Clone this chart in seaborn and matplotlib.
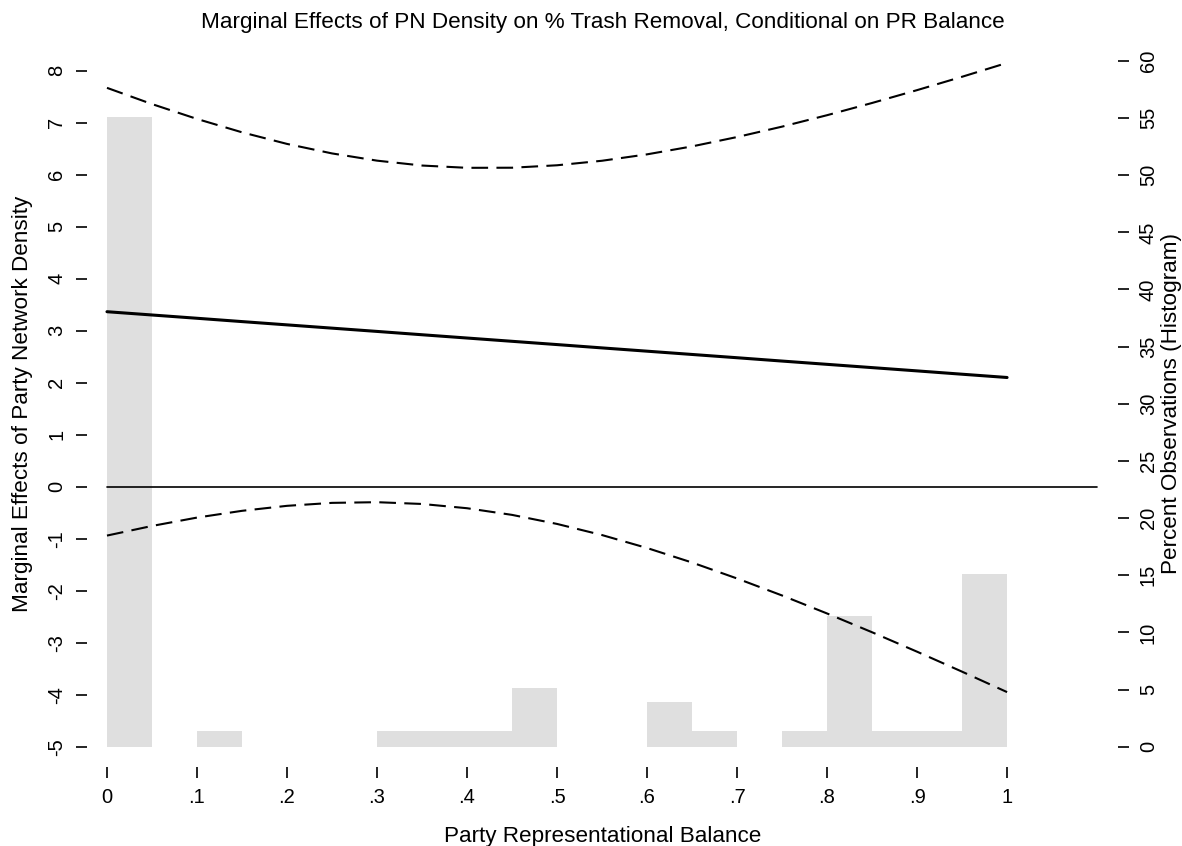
import numpy as np
import pandas as pd
import matplotlib
matplotlib.use("Agg")
import matplotlib.pyplot as plt
import seaborn as sns

# Moderator grid (party representational balance)
balance = [0.00, 0.05, 0.10, 0.15, 0.20, 0.25, 0.30, 0.35, 0.40, 0.45, 0.50,
           0.55, 0.60, 0.65, 0.70, 0.75, 0.80, 0.85, 0.90, 0.95, 1.00]
# Marginal effect of party network density and its confidence bounds
marginal_effect = [3.365, 3.302, 3.239, 3.175, 3.112, 3.049, 2.986, 2.922, 2.859, 2.796, 2.733,
                   2.669, 2.606, 2.543, 2.480, 2.416, 2.353, 2.290, 2.227, 2.163, 2.100]
upper_bound = [7.670, 7.358, 7.072, 6.815, 6.592, 6.409, 6.270, 6.176, 6.132, 6.134, 6.181,
               6.268, 6.391, 6.544, 6.724, 6.924, 7.144, 7.379, 7.626, 7.883, 8.150]
lower_bound = [-0.940, -0.755, -0.594, -0.464, -0.368, -0.311, -0.298, -0.332, -0.414, -0.542, -0.716,
               -0.930, -1.179, -1.458, -1.765, -2.092, -2.438, -2.799, -3.173, -3.557, -3.950]

# Histogram of observations: bin left edges and percent of observations
bin_left = [0.00, 0.05, 0.10, 0.15, 0.20, 0.25, 0.30, 0.35, 0.40, 0.45,
            0.50, 0.55, 0.60, 0.65, 0.70, 0.75, 0.80, 0.85, 0.90, 0.95]
pct_obs = [55.1, 0, 1.37, 0, 0, 0, 1.37, 1.37, 1.37, 5.16,
           0, 0, 3.91, 1.37, 0, 1.37, 11.43, 1.37, 1.37, 15.14]
bin_width = 0.05

# Reference line at zero
zero_span = [0.0, 1.1]

x_ticks = [0, .1, .2, .3, .4, .5, .6, .7, .8, .9, 1]
x_tick_labels = ["0", ".1", ".2", ".3", ".4", ".5", ".6", ".7", ".8", ".9", "1"]
y_ticks = list(range(-5, 9))
pct_ticks = list(range(0, 61, 5))

sns.set_theme(style="white")
plt.rcParams["font.family"] = ["Liberation Sans", "DejaVu Sans"]
plt.rcParams["text.color"] = "black"
plt.rcParams["axes.labelcolor"] = "black"

fig = plt.figure(figsize=(11.82, 8.46), dpi=100)
ax = fig.add_axes([0.0736, 0.0934, 0.8723, 0.8587])
ax2 = ax.twinx()

# Histogram on the secondary (right) axis, drawn behind the effect lines
hist_df = pd.DataFrame({"mid": np.asarray(bin_left) + bin_width / 2, "pct": pct_obs})
hist_df = hist_df[hist_df["pct"] > 0]
edges = [round(b, 4) for b in bin_left] + [1.0]
sns.histplot(data=hist_df, x="mid", weights="pct", bins=edges, stat="count",
             color="#DFDFDF", alpha=1, linewidth=0, ax=ax2)

ax.set_zorder(ax2.get_zorder() + 1)
ax.patch.set_visible(False)

df = pd.DataFrame({"balance": balance, "me": marginal_effect,
                   "hi": upper_bound, "lo": lower_bound})
ax.plot(zero_span, [0, 0], color="black", lw=1.2)
sns.lineplot(data=df, x="balance", y="me", color="black", lw=2.2, ax=ax)
for col in ("hi", "lo"):
    sns.lineplot(data=df, x="balance", y=col, color="black", lw=1.5, ax=ax)
    ax.lines[-1].set_dashes((8, 4))

# Axis limits
ax.set_xlim(-0.0222, 1.1233)
ax.set_ylim(-5.39, 8.58)
ax2.set_ylim(-1.77, 61.78)

for a in (ax, ax2):
    for s in a.spines.values():
        s.set_visible(False)
    a.grid(False)

ax.set_xticks(x_ticks)
ax.set_xticklabels(x_tick_labels)
ax.set_yticks(y_ticks)
ax.set_yticklabels([str(v) for v in y_ticks], rotation=90, va="center")
ax2.set_yticks(pct_ticks)
ax2.set_yticklabels([str(v) for v in pct_ticks], rotation=90, va="center")

tick_kw = dict(direction="out", length=8, width=1.2, color="black",
               labelsize=14.5, labelcolor="black", pad=7)
ax.tick_params(axis="x", bottom=True, **tick_kw)
ax.tick_params(axis="y", left=True, **tick_kw)
ax2.tick_params(axis="y", right=True, **tick_kw)

ax.set_xlabel("Party Representational Balance", fontsize=16.2, labelpad=14)
ax.set_ylabel("Marginal Effects of Party Network Density", fontsize=16.2, labelpad=10)
ax2.set_ylabel("Percent Observations (Histogram)", fontsize=16.2, labelpad=2)
ax.set_title("Marginal Effects of PN Density on % Trash Removal, Conditional on PR Balance",
             fontsize=16.2, pad=9)

fig.savefig("out.png", dpi=100)
